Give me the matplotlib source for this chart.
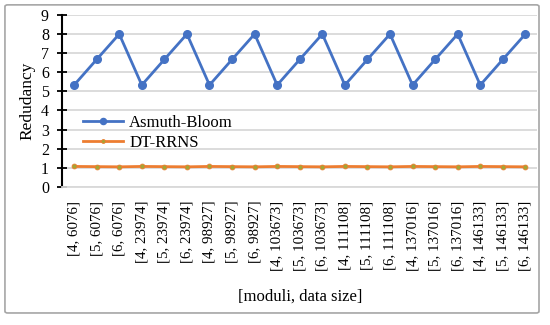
import numpy as np
import matplotlib.pyplot as plt
from matplotlib.patches import FancyBboxPatch

plt.rcParams['font.family'] = ['Liberation Serif', 'DejaVu Serif']

# x categories: [moduli, data size]
sizes = [6076, 6076, 6076, 23974, 23974, 23974, 98927, 98927, 98927,
         103673, 103673, 103673, 111108, 111108, 111108,
         137016, 137016, 137016, 146133, 146133, 146133]
moduli = [4, 5, 6] * 7
labels = [f'[{m}, {s}]' for m, s in zip(moduli, sizes)]

asmuth = [5.33, 6.67, 8.0] * 7
dtrrns = [1.07, 1.06, 1.05] * 7

fig = plt.figure(figsize=(5.5, 3.25), dpi=100)
ax = fig.add_axes([0.113, 0.425, 0.864, 0.529])

x = np.arange(len(labels))
ax.plot(x, asmuth, color='#4472C4', lw=2, marker='o', ms=5.5, label='Asmuth-Bloom')
ax.plot(x, dtrrns, color='#ED7D31', lw=2, marker='o', ms=3.5,
        mfc='#A5A534', mec='#ED7D31', mew=0.6, label='DT-RRNS')

ax.set_ylim(0, 9)
ax.set_yticks(range(10))
ax.set_xlim(-0.53, len(labels) - 0.47)
ax.set_xticks(x)
ax.set_xticklabels(labels, rotation=90, fontsize=10.8)
ax.tick_params(axis='y', labelsize=11.5, direction='inout', length=7, width=1.3, pad=6)
ax.tick_params(axis='x', length=0, pad=10)
ax.grid(axis='y', color='#D9D9D9', lw=1.3)
ax.set_axisbelow(True)
for s in ['top', 'right']:
    ax.spines[s].set_visible(False)
ax.spines['bottom'].set_color('#D9D9D9')
ax.spines['bottom'].set_linewidth(1.3)
ax.spines['left'].set_linewidth(1.5)

ax.set_ylabel('Redudancy', fontsize=12.5, labelpad=4)
ax.set_xlabel('[moduli, data size]', fontsize=12, labelpad=13)
ax.legend(loc='upper left', bbox_to_anchor=(0.03, 0.455), frameon=False,
          fontsize=12, handlelength=2.4, handletextpad=0.36, labelspacing=0.22,
          borderaxespad=0, markerscale=0.8)

border = FancyBboxPatch((0.009, 0.037), 0.971, 0.948, transform=fig.transFigure,
                        boxstyle='round,pad=0,rounding_size=0.005',
                        fill=False, ec='#A6A6A6', lw=1.2)
fig.patches.append(border)

plt.savefig('out.png', dpi=100)
